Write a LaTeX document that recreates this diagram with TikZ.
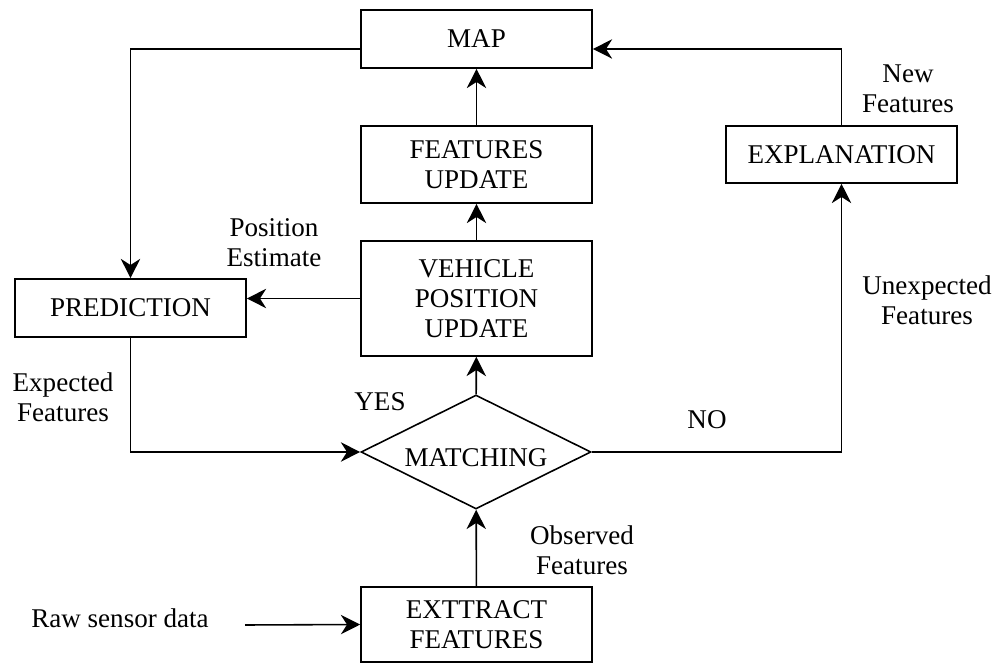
\documentclass[tikz,border=0pt]{standalone}
\usepackage{fontspec}
\setmainfont{Liberation Serif}
\usetikzlibrary{arrows.meta,shapes.geometric}
\begin{document}
\begin{tikzpicture}[>={Stealth[length=11pt,width=11pt,inset=3.5pt]},
 font=\fontsize{15.4}{17}\selectfont, line width=0.9pt,
 box/.style={draw,align=center,minimum width=4.62cm,inner sep=2pt},
 decision/.style={draw,diamond,aspect=2,minimum width=4.6cm,minimum height=2.28cm,inner sep=0pt},
 lbl/.style={align=center,inner sep=1pt},
 flow/.style={->}]
\useasboundingbox (0,0) rectangle (19.92,-13.26);
\node[box,minimum height=1.16cm] (map) at (9.53,-0.78) {MAP};
\node[box,minimum height=1.54cm] (fupd) at (9.53,-3.29) {FEATURES\\UPDATE};
\node[box,minimum height=2.3cm] (vpu) at (9.53,-5.97) {VEHICLE\\POSITION\\UPDATE};
\node[box,minimum height=1.16cm] (pred) at (2.61,-6.16) {PREDICTION};
\node[decision] (match) at (9.52,-9.04) {\raisebox{-8.5pt}[0pt][0pt]{MATCHING}};
\node[box,minimum height=1.14cm] (expl) at (16.83,-3.09) {EXPLANATION};
\node[box,minimum height=1.5cm] (extr) at (9.53,-12.49) {EXTTRACT\\FEATURES};
\coordinate (raw) at (4.9,-12.5);
% labels
\node[lbl] (posest) at (5.48,-4.86) {Position\\Estimate};
\node[lbl] (expfeat) at (1.26,-7.94) {Expected\\Features};
\node[lbl] (yes) at (7.6,-8.04) {YES};
\node[lbl] (no) at (14.14,-8.4) {NO};
\node[lbl] (unexp) at (18.54,-6.0) {Unexpected\\Features};
\node[lbl] (newfeat) at (18.16,-1.78) {New\\Features};
\node[lbl] (obsfeat) at (11.64,-11.0) {Observed\\Features};
\node[lbl] (rawtxt) at (2.4,-12.36) {Raw sensor data};
% connectors
\draw[flow] ([yshift=-0.2cm]map.west) -| (pred.north);
\draw[flow] (fupd) -- (map);
\draw[flow] (vpu) -- (fupd);
\draw[flow] (match) -- (vpu);
\draw[flow] (vpu.west) -- (vpu.west -| pred.east);
\draw[flow] (pred.south) |- (match.west);
\draw[flow] (match.east) -| (expl.south);
\draw[flow] (expl.north) |- ([yshift=-0.2cm]map.east);
\draw[flow] (extr) -- (match);
\draw[flow] (raw) -- (extr.west);
\end{tikzpicture}
\end{document}
